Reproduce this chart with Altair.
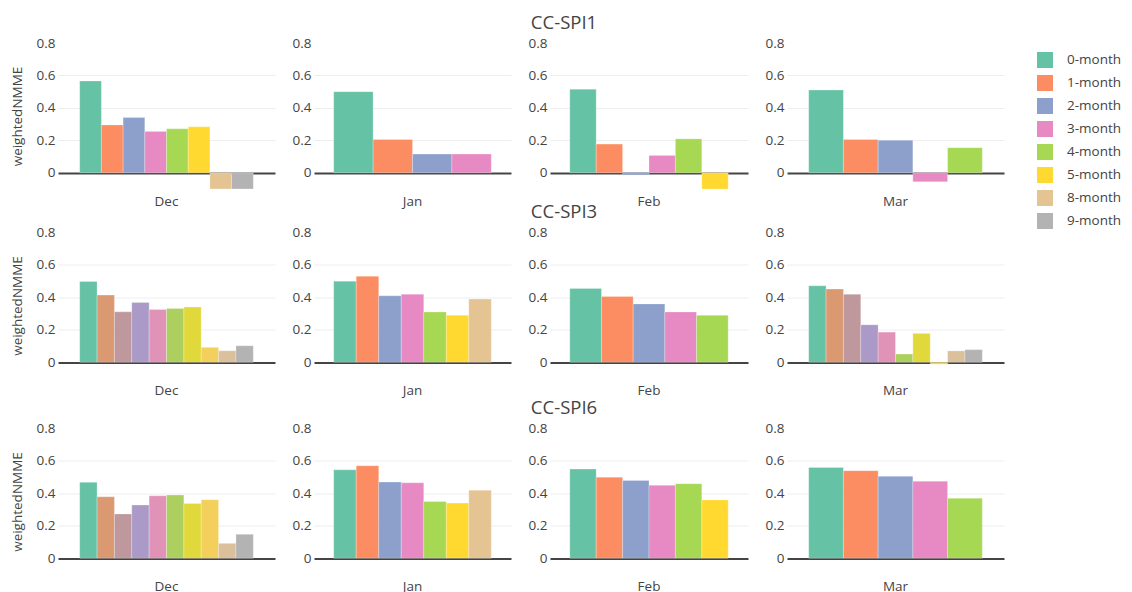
import altair as alt
import pandas as pd

months = ["Dec", "Jan", "Feb", "Mar"]
row_titles = ["CC-SPI1", "CC-SPI3", "CC-SPI6"]

spi1_dec = [0.566, 0.295, 0.341, 0.255, 0.271, 0.283, -0.10, -0.10]
spi1_jan = [0.50, 0.205, 0.115, 0.115]
spi1_feb = [0.515, 0.177, -0.014, 0.107, 0.209, -0.10]
spi1_mar = [0.51, 0.205, 0.20, -0.056, 0.155]

spi3_dec = [0.498, 0.414, 0.311, 0.369, 0.326, 0.332, 0.340, 0.092, 0.071, 0.102]
spi3_jan = [0.50, 0.53, 0.41, 0.42, 0.31, 0.29, 0.39]
spi3_feb = [0.455, 0.405, 0.36, 0.31, 0.29]
spi3_mar = [0.471, 0.451, 0.42, 0.231, 0.186, 0.051, 0.178, -0.012, 0.07, 0.078]

spi6_dec = [0.468, 0.379, 0.273, 0.328, 0.385, 0.39, 0.338, 0.361, 0.092, 0.148]
spi6_jan = [0.545, 0.57, 0.47, 0.465, 0.35, 0.34, 0.42]
spi6_feb = [0.55, 0.50, 0.48, 0.45, 0.46, 0.36]
spi6_mar = [0.56, 0.54, 0.505, 0.475, 0.37]

rows_data = [
    [spi1_dec, spi1_jan, spi1_feb, spi1_mar],
    [spi3_dec, spi3_jan, spi3_feb, spi3_mar],
    [spi6_dec, spi6_jan, spi6_feb, spi6_mar],
]

legend_labels = ["0-month", "1-month", "2-month", "3-month",
                 "4-month", "5-month", "8-month", "9-month"]
set2 = ["#66c2a5", "#fc8d62", "#8da0cb", "#e78ac3",
        "#a6d854", "#ffd92f", "#e5c494", "#b3b3b3"]
set2_10 = ["#66c2a5", "#db9971", "#be989c", "#ab99c8", "#e093b7",
           "#adcf60", "#e1d93b", "#f3d05c", "#dac09b", "#b3b3b3"]
extra_keys = ["c%d" % k for k in range(10)]

col_widths = [217, 197, 198, 217]
FONT = "Open Sans"
TXT = "#444444"

color_scale = alt.Scale(domain=legend_labels + extra_keys, range=set2 + set2_10)
legend = alt.Legend(
    title=None, values=legend_labels, orient="none", legendX=979, legendY=9,
    symbolType="square", symbolSize=256, symbolStrokeWidth=0, rowPadding=7,
    labelOffset=14, labelFontSize=13.5, labelFont=FONT, labelColor=TXT, padding=0,
)


def panel(vals, month, col):
    n = len(vals)
    keys = [legend_labels[k] if n <= 8 else extra_keys[k] for k in range(n)]
    df = pd.DataFrame({"month": [month] * n, "k": list(range(n)),
                       "value": vals, "key": keys})
    yaxis = alt.Axis(
        values=[0, 0.2, 0.4, 0.6, 0.8],
        labelExpr="datum.value == 0 ? '0' : format(datum.value, '.1f')",
        ticks=False, domain=False, labelPadding=3,
        labelFontSize=13.5, labelFont=FONT, labelColor=TXT,
        gridColor={"condition": {"test": "datum.value == 0", "value": "#444444"}, "value": "#eeeeee"},
        gridWidth={"condition": {"test": "datum.value == 0", "value": 1.8}, "value": 1},
        gridOpacity={"condition": {"test": "datum.value >= 0.79", "value": 0}, "value": 1},
        title="weightedNMME" if col == 0 else None,
        titleFontSize=13.5, titleFont=FONT, titleColor=TXT, titleFontWeight="normal",
        titlePadding=12,
    )
    xaxis = alt.Axis(title=None, ticks=False, domain=False, labelPadding=5, labelAngle=0,
                     labelFontSize=13.5, labelFont=FONT, labelColor=TXT)
    return alt.Chart(df).mark_bar(stroke="white", strokeWidth=0.5, strokeOpacity=0.5).encode(
        x=alt.X("month:N", axis=xaxis, scale=alt.Scale(paddingInner=0, paddingOuter=0.125)),
        xOffset=alt.XOffset("k:O", scale=alt.Scale(paddingInner=0, paddingOuter=0)),
        y=alt.Y("value:Q", axis=yaxis, scale=alt.Scale(domain=[-0.1, 0.8], nice=False)),
        y2=alt.datum(0),
        color=alt.Color("key:N", scale=color_scale, legend=legend),
    ).properties(width=col_widths[col], height=146)


row_charts = []
for r, title in enumerate(row_titles):
    panels = [panel(rows_data[r][c], months[c], c) for c in range(4)]
    rc = alt.hconcat(*panels, spacing=17, title=alt.TitleParams(
        text=title, anchor="middle", fontSize=18.5, font=FONT, color=TXT,
        fontWeight="normal", offset=4, dx=57)).resolve_scale(
        x="independent", xOffset="independent", y="independent", color="shared")
    row_charts.append(rc)

lower = alt.vconcat(row_charts[1], row_charts[2], spacing=1).resolve_scale(
    x="independent", xOffset="independent", y="independent", color="shared")
chart = alt.vconcat(row_charts[0], lower, spacing=-5.5).resolve_scale(
    x="independent", xOffset="independent", y="independent", color="shared"
).properties(
    padding={"left": 2, "top": 5, "right": -1, "bottom": 0},
    background="white",
).configure_view(stroke=None)

chart.save("out.html", embed_options={"renderer": "svg", "actions": False})
